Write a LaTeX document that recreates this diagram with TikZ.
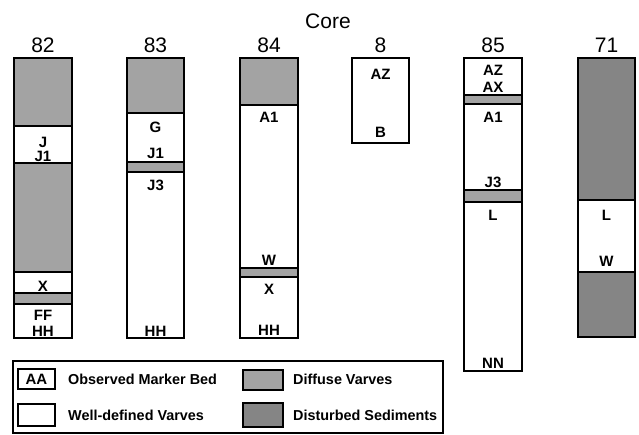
\documentclass[tikz,border=0pt]{standalone}
\usepackage{fontspec}
\setmainfont{Liberation Sans}
\usepackage{tikz}

\begin{document}
\begin{tikzpicture}[
    x=1pt, y=-1pt,
    column/.style={line width=1.8pt, black},
    diffuse/.style={fill=black!36},
    disturbed/.style={fill=black!48},
    well/.style={fill=white},
    lbl/.style={font=\bfseries\fontsize{15}{16}\selectfont, inner sep=0pt, text height=10.8pt, text depth=0pt},
    hdr/.style={font=\fontsize{21}{22}\selectfont, inner sep=0pt, text height=15pt, text depth=0pt},
    keytext/.style={font=\bfseries\fontsize{14.4}{16}\selectfont, inner sep=0pt, anchor=west, text height=10.4pt, text depth=0pt}
]

\useasboundingbox (0,0) rectangle (639,435);

% ---------------- TITOLS ----------------

\node[hdr] (core) at (328,21) {Core};

\node[hdr] (h82) at (43,45.5) {82};
\node[hdr] (h83) at (155.5,45.5) {83};
\node[hdr] (h84) at (269,45.5) {84};
\node[hdr] (h8) at (380.5,45.5) {8};
\node[hdr] (h85) at (493,45.5) {85};
\node[hdr] (h71) at (606.5,45.5) {71};


% ---------------- CORE 82 ----------------

\draw[column, diffuse] (14,58) rectangle (72,126);
\draw[column, well] (14,126) rectangle (72,163);
\draw[column, diffuse] (14,163) rectangle (72,272);
\draw[column, well] (14,272) rectangle (72,293);
\draw[column, diffuse] (14,293) rectangle (72,304);
\draw[column, well] (14,304) rectangle (72,338);

\node[lbl] (c82-J) at (43,142) {J};
\node[lbl] (c82-J1) at (43,156) {J1};
\node[lbl] (c82-X) at (43,286) {X};
\node[lbl] (c82-FF) at (43,315) {FF};
\node[lbl] (c82-HH) at (43,331) {HH};


% ---------------- CORE 83 ----------------

\draw[column, diffuse] (127,58) rectangle (184,113);
\draw[column, well] (127,113) rectangle (184,162);
\draw[column, diffuse] (127,162) rectangle (184,172);
\draw[column, well] (127,172) rectangle (184,338);

\node[lbl] (c83-G) at (155.5,127) {G};
\node[lbl] (c83-J1) at (155.5,153) {J1};
\node[lbl] (c83-J3) at (155.5,185) {J3};
\node[lbl] (c83-HH) at (155.5,331) {HH};


% ---------------- CORE 84 ----------------

\draw[column, diffuse] (240,58) rectangle (298,105);
\draw[column, well] (240,105) rectangle (298,268);
\draw[column, diffuse] (240,268) rectangle (298,277);
\draw[column, well] (240,277) rectangle (298,338);

\node[lbl] (c84-A1) at (269,117) {A1};
\node[lbl] (c84-W) at (269,260) {W};
\node[lbl] (c84-X) at (269,289) {X};
\node[lbl] (c84-HH) at (269,330) {HH};


% ---------------- CORE 8 ----------------

\draw[column, well] (352,58) rectangle (409,143);

\node[lbl] (c8-AZ) at (380.5,74) {AZ};
\node[lbl] (c8-B) at (380.5,132) {B};


% ---------------- CORE 85 ----------------

\draw[column, well] (464,58) rectangle (522,95);
\draw[column, diffuse] (464,95) rectangle (522,104);
\draw[column, well] (464,104) rectangle (522,190);
\draw[column, diffuse] (464,190) rectangle (522,202);
\draw[column, well] (464,202) rectangle (522,371);

\node[lbl] (c85-AZ) at (493,70) {AZ};
\node[lbl] (c85-AX) at (493,87) {AX};
\node[lbl] (c85-A1) at (493,117) {A1};
\node[lbl] (c85-J3) at (493,182) {J3};
\node[lbl] (c85-L) at (493,215) {L};
\node[lbl] (c85-NN) at (493,363) {NN};


% ---------------- CORE 71 ----------------

\draw[column, disturbed] (578,58) rectangle (635,200);
\draw[column, well] (578,200) rectangle (635,272);
\draw[column, disturbed] (578,272) rectangle (635,337);

\node[lbl] (c71-L) at (606.5,215) {L};
\node[lbl] (c71-W) at (606.5,261) {W};


% ---------------- LLEGENDA ----------------

\draw[line width=1.4pt] (13,361) rectangle (443,433);

% marcador
\draw[line width=1.4pt] (18,369) rectangle (55,389);
\node[lbl] (key-AA) at (36.5,379) {AA};
\node[keytext] (key-marker) at (68,379) {Observed Marker Bed};

% ben definides
\draw[line width=1.4pt, well] (18,404) rectangle (55,426);
\node[keytext] (key-well) at (68,415) {Well-defined Varves};

% difuses
\draw[line width=1.4pt, diffuse] (243,370) rectangle (283,390);
\node[keytext] (key-diffuse) at (293,379) {Diffuse Varves};

% pertorbats
\draw[line width=1.4pt, disturbed] (243,403) rectangle (283,427);
\node[keytext] (key-disturbed) at (293,415) {Disturbed Sediments};

\end{tikzpicture}
\end{document}
